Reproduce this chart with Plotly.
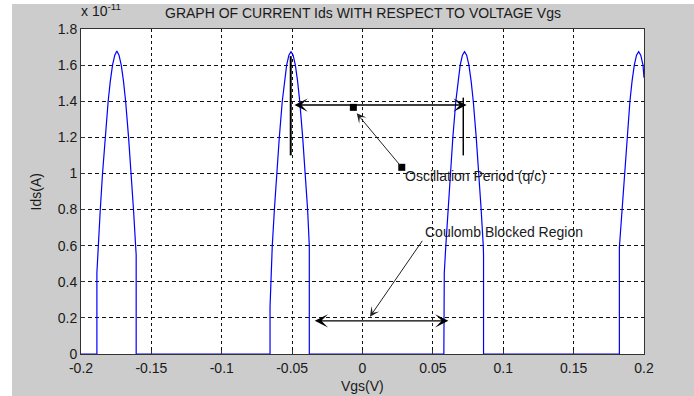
import plotly.graph_objects as go

# ---- data (Ids in units of 1e-11 A) ----
vgs = [
    -0.2000, -0.1887,
    -0.1887, -0.1878, -0.1863, -0.1847, -0.1828, -0.1807, -0.1792, -0.1776, -0.1760,
    -0.1745,
    -0.1730, -0.1714, -0.1698, -0.1683, -0.1662, -0.1643, -0.1627, -0.1612, -0.1608,
    -0.1608, -0.0657,
    -0.0657, -0.0652, -0.0641, -0.0626, -0.0610, -0.0591, -0.0570, -0.0555, -0.0539, -0.0523,
    -0.0508,
    -0.0493, -0.0477, -0.0461, -0.0446, -0.0425, -0.0406, -0.0390, -0.0378,
    -0.0378, 0.0578,
    0.0578, 0.0581, 0.0592, 0.0607, 0.0623, 0.0642, 0.0663, 0.0678, 0.0694, 0.0710,
    0.0725,
    0.0740, 0.0756, 0.0772, 0.0787, 0.0808, 0.0827, 0.0843, 0.0858, 0.0860,
    0.0860, 0.1825,
    0.1825, 0.1844, 0.1860, 0.1879, 0.1900, 0.1915, 0.1931, 0.1947,
    0.1962,
    0.1977, 0.1993, 0.2000,
]
ids_e11 = [
    0.0, 0.0,
    0.45, 0.60, 0.80, 1.00, 1.20, 1.40, 1.51, 1.60, 1.655,
    1.678,
    1.655, 1.60, 1.51, 1.40, 1.20, 1.00, 0.80, 0.60, 0.55,
    0.0, 0.0,
    0.26, 0.40, 0.60, 0.80, 1.00, 1.20, 1.40, 1.51, 1.60, 1.655,
    1.674,
    1.655, 1.60, 1.51, 1.40, 1.20, 1.00, 0.80, 0.60,
    0.0, 0.0,
    0.35, 0.45, 0.60, 0.80, 1.00, 1.20, 1.40, 1.51, 1.60, 1.655,
    1.674,
    1.655, 1.60, 1.51, 1.40, 1.20, 1.00, 0.80, 0.60, 0.55,
    0.0, 0.0,
    0.59, 0.80, 1.00, 1.20, 1.40, 1.51, 1.60, 1.655,
    1.674,
    1.655, 1.60, 1.53,
]
x_ticks = [-0.2, -0.15, -0.1, -0.05, 0, 0.05, 0.1, 0.15, 0.2]
x_tick_labels = ["-0.2", "-0.15", "-0.1", "-0.05", "0", "0.05", "0.1", "0.15", "0.2"]
y_ticks = [0, 0.2, 0.4, 0.6, 0.8, 1.0, 1.2, 1.4, 1.6, 1.8]
y_tick_labels = ["0", "0.2", "0.4", "0.6", "0.8", "1", "1.2", "1.4", "1.6", "1.8"]

FONT = "Liberation Sans, Arial, sans-serif"
TXT = "#1a1a1a"
FS = 14

fig = go.Figure()
fig.add_trace(go.Scatter(x=vgs, y=ids_e11, mode="lines",
                         line=dict(color="#0000ff", width=1.2), showlegend=False))

fig.update_layout(
    width=694, height=396,
    margin=dict(l=81, r=50, t=29, b=42, pad=0),
    paper_bgcolor="#cccccc", plot_bgcolor="#ffffff",
    font=dict(family=FONT, size=FS, color=TXT),
    xaxis=dict(range=[-0.2, 0.2], tickvals=x_ticks, ticktext=x_tick_labels,
               showgrid=True, gridcolor="#111111", griddash="3px,3px", gridwidth=1,
               zeroline=False, showline=True, linecolor="#333333", linewidth=1, mirror=True,
               ticks="inside", ticklen=4, tickcolor="#333333", ticklabelstandoff=1,
               tickfont=dict(family=FONT, size=FS, color=TXT)),
    yaxis=dict(range=[0, 1.8], tickvals=y_ticks, ticktext=y_tick_labels,
               showgrid=True, gridcolor="#111111", griddash="4px,3px", gridwidth=1,
               zeroline=False, showline=True, linecolor="#333333", linewidth=1, mirror=True,
               ticks="inside", ticklen=4, tickcolor="#333333",
               tickfont=dict(family=FONT, size=FS, color=TXT)),
)

ann = []
# title and labels
ann.append(dict(text="GRAPH OF CURRENT Ids WITH RESPECT TO VOLTAGE Vgs", xref="paper", yref="paper",
                x=0.5, y=1.049, xanchor="center", yanchor="middle", showarrow=False,
                font=dict(size=FS, color=TXT, family=FONT)))
ann.append(dict(text="x 10<sup>-11</sup>", xref="paper", yref="paper",
                x=-0.004, y=1.0246, xanchor="left", yanchor="bottom", showarrow=False,
                font=dict(size=FS, color=TXT, family=FONT)))
ann.append(dict(text="Ids(A)", xref="paper", yref="paper", x=-0.08, y=0.5, textangle=-90,
                xanchor="center", yanchor="middle", showarrow=False,
                font=dict(size=FS, color=TXT, family=FONT)))
ann.append(dict(text="Vgs(V)", xref="paper", yref="paper", x=0.5, y=-0.0985,
                xanchor="center", yanchor="middle", showarrow=False,
                font=dict(size=FS, color=TXT, family=FONT)))
# oscillation period double arrow
ann.append(dict(x=0.0740, y=1.379, ax=-0.0494, ay=1.379, xref="x", yref="y", axref="x", ayref="y",
                text="", showarrow=True, arrowside="end+start", arrowhead=3, arrowsize=1.7,
                arrowwidth=1.3, arrowcolor="#000000", standoff=0, startstandoff=0))
# oblique arrow from lower square to upper square
ann.append(dict(x=-0.0041, y=1.333, ax=0.0279, ay=1.034, xref="x", yref="y", axref="x", ayref="y",
                text="", showarrow=True, arrowhead=3, arrowsize=1.6, arrowwidth=1,
                arrowcolor="#222222", standoff=0))
ann.append(dict(text="Oscillation Period (q/c)", x=0.0288, y=0.986, xref="x", yref="y",
                xanchor="left", yanchor="middle", showarrow=False,
                font=dict(size=FS, color=TXT, family=FONT)))
# coulomb blocked region
ann.append(dict(x=0.0053, y=0.2065, ax=0.0432, ay=0.635, xref="x", yref="y", axref="x", ayref="y",
                text="", showarrow=True, arrowhead=3, arrowsize=1.6, arrowwidth=1,
                arrowcolor="#222222", standoff=0))
ann.append(dict(x=0.0610, y=0.184, ax=-0.0350, ay=0.184, xref="x", yref="y", axref="x", ayref="y",
                text="", showarrow=True, arrowside="end+start", arrowhead=3, arrowsize=1.7,
                arrowwidth=1.3, arrowcolor="#000000", standoff=0, startstandoff=0))
ann.append(dict(text="Coulomb Blocked Region", x=0.0430, y=0.6755, xref="x", yref="y",
                xanchor="left", yanchor="middle", showarrow=False,
                font=dict(size=FS, color=TXT, family=FONT)))
fig.update_layout(annotations=ann)

shapes = []
# white strips at the image edge
shapes.append(dict(type="rect", xref="paper", yref="paper", x0=-0.15, x1=-0.1226, y0=-0.2, y1=1.2,
                   fillcolor="#ffffff", line=dict(width=0), layer="below"))
shapes.append(dict(type="rect", xref="paper", yref="paper", x0=-0.15, x1=1.2, y0=1.077, y1=1.2,
                   fillcolor="#ffffff", line=dict(width=0), layer="below"))
# vertical marker lines
shapes.append(dict(type="line", xref="x", yref="y", x0=-0.051, x1=-0.051, y0=1.10, y1=1.65,
                   line=dict(color="#000000", width=2)))
shapes.append(dict(type="line", xref="x", yref="y", x0=0.0716, x1=0.0716, y0=1.10, y1=1.42,
                   line=dict(color="#000000", width=1.5)))
# square markers
for sx, sy in [(-0.0065, 1.366), (0.0279, 1.034)]:
    shapes.append(dict(type="rect", xref="x", yref="y", xsizemode="pixel", ysizemode="pixel",
                       xanchor=sx, yanchor=sy, x0=-3.5, x1=3.5, y0=-3.5, y1=3.5,
                       fillcolor="#000000", line=dict(width=0)))
fig.update_layout(shapes=shapes)

fig.write_html("out.html")
